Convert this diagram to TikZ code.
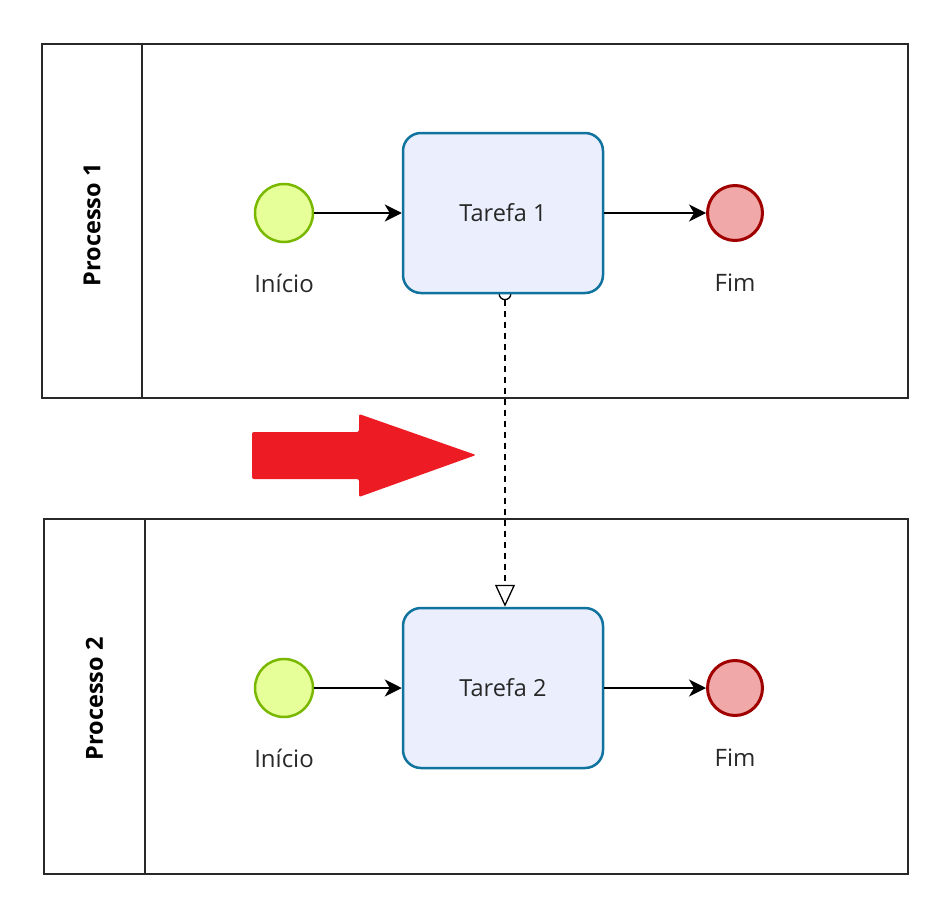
\documentclass[tikz,border=0pt]{standalone}
\usepackage{fontspec}
\setmainfont{Open Sans}
\usetikzlibrary{arrows.meta,backgrounds}
\definecolor{startfill}{RGB}{230,255,153}
\definecolor{startdraw}{RGB}{122,184,0}
\definecolor{endfill}{RGB}{240,168,168}
\definecolor{enddraw}{RGB}{160,0,0}
\definecolor{taskfill}{RGB}{234,238,253}
\definecolor{taskdraw}{RGB}{16,115,158}
\definecolor{poolline}{RGB}{40,40,40}
\definecolor{txt}{RGB}{40,40,40}
\definecolor{bigred}{RGB}{237,28,36}
\tikzset{
  pool/.style={draw=poolline, line width=1.6pt},
  pooltitle/.style={rotate=90, font=\fontsize{23.5}{28}\selectfont\bfseries, text=black},
  task/.style={draw=taskdraw, fill=taskfill, line width=2.5pt, rounded corners=18pt,
    minimum width=200pt, minimum height=160pt, font=\fontsize{23.5}{28}\selectfont, text=txt},
  startev/.style={circle, draw=startdraw, fill=startfill, line width=2.5pt, minimum size=58pt, inner sep=0pt},
  endev/.style={circle, draw=enddraw, fill=endfill, line width=3pt, minimum size=55pt, inner sep=0pt},
  evlabel/.style={font=\fontsize{24}{28}\selectfont, text=txt},
  seqflow/.style={draw=black, line width=1.4pt, -{Stealth[length=17pt,width=17pt,inset=5pt]}},
  msgflow/.style={draw=black, line width=1.4pt, dash pattern=on 6pt off 5pt,
    {Circle[open,length=13pt,width=13pt,line width=1.3pt]}-{Triangle[open,length=22pt,width=20pt,line width=1.3pt]}},
}
\begin{document}
\begin{tikzpicture}[x=1pt,y=-1pt]
\useasboundingbox (0,0) rectangle (932,899);
% pool 1
\draw[pool] (42,44) rectangle (908,398);
\draw[pool] (142,44) -- (142,398);
\node[pooltitle] (p1) at (92,225) {Processo 1};
% pool 2
\draw[pool] (44,519) rectangle (908,874);
\draw[pool] (145,519) -- (145,874);
\node[pooltitle] (p2) at (94.5,699) {Processo 2};
% process 1
\node[startev] (s1) at (284,213) {};
\node[evlabel] (s1l) at (284,283) {Início};
\node[task] (t1) at (503,213) {Tarefa 1};
\node[endev] (e1) at (735,213) {};
\node[evlabel] (e1l) at (735,283) {Fim};
\draw[seqflow] (s1) -- (t1);
\draw[seqflow] (t1) -- (e1);
% process 2
\node[startev] (s2) at (284,688) {};
\node[evlabel] (s2l) at (284,758) {Início};
\node[task] (t2) at (503,688) {Tarefa 2};
\node[endev] (e2) at (735,688) {};
\node[evlabel] (e2l) at (735,758) {Fim};
\draw[seqflow] (s2) -- (t2);
\draw[seqflow] (t2) -- (e2);
% message flow (behind the tasks)
\begin{scope}[on background layer]
\draw[msgflow] ([xshift=2pt,yshift=7pt]t1.south) -- ([xshift=2pt]t2.north);
\end{scope}
% big red arrow
\fill[bigred, rounded corners=2pt] (252,432) -- (359,432) -- (359,414) -- (476,455) -- (359,497) -- (359,479) -- (252,479) -- cycle;
\end{tikzpicture}
\end{document}
